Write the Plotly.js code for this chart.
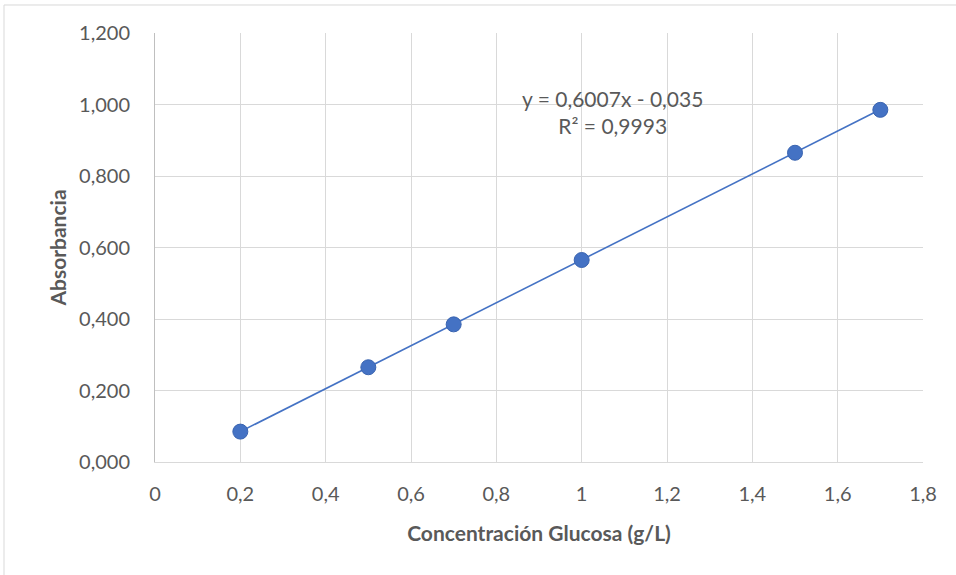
<!DOCTYPE html>
<html>
<head>
<meta charset="utf-8">
<script src="https://cdn.plot.ly/plotly-3.0.1.min.js"></script>
<style>html,body{margin:0;padding:0;background:#fff;}#chart{width:956px;height:575px;}</style>
</head>
<body>
<div id="chart"></div>
<script>
const concentration = [0.2, 0.5, 0.7, 1.0, 1.5, 1.7];
const absorbance = [0.085, 0.265, 0.385, 0.565, 0.865, 0.985];
const trendX = [0.2, 1.7];
const trendY = [0.085, 0.986];
const xTickVals = [0, 0.2, 0.4, 0.6, 0.8, 1, 1.2, 1.4, 1.6, 1.8];
const xTickText = ["0", "0,2", "0,4", "0,6", "0,8", "1", "1,2", "1,4", "1,6", "1,8"];
const yTickVals = [0, 0.2, 0.4, 0.6, 0.8, 1.0, 1.2];
const yTickText = ["0,000", "0,200", "0,400", "0,600", "0,800", "1,000", "1,200"];
const equationText = "y = 0,6007x - 0,035<br>R² = 0,9993";

const FONT = "Lato, 'Open Sans', sans-serif";
const blue = "#4472C4";

const traces = [
  {x: trendX, y: trendY, mode: "lines", line: {color: blue, width: 1.6}, hoverinfo: "skip", showlegend: false},
  {x: concentration, y: absorbance, mode: "markers", marker: {color: blue, size: 15, line: {color: "#3A64B0", width: 1}}, showlegend: false}
];

const layout = {
  width: 956, height: 575,
  margin: {l: 155, r: 33, t: 33, b: 113},
  paper_bgcolor: "#fff", plot_bgcolor: "#fff",
  font: {family: FONT, color: "#595959", size: 20},
  xaxis: {
    range: [0, 1.8], tickvals: xTickVals, ticktext: xTickText,
    showgrid: true, gridcolor: "#D9D9D9", gridwidth: 1, zeroline: false,
    showline: true, linecolor: "#D9D9D9", linewidth: 1, ticks: "",
    ticklabelstandoff: 14,
    tickfont: {family: FONT, size: 20, color: "#595959"},
    title: {text: "<b>Concentración Glucosa (g/L)</b>", font: {family: FONT, size: 21, color: "#595959"}, standoff: 22}
  },
  yaxis: {
    range: [0, 1.2], tickvals: yTickVals, ticktext: yTickText,
    showgrid: true, gridcolor: "#D9D9D9", gridwidth: 1, zeroline: false,
    showline: true, linecolor: "#BFBFBF", linewidth: 1, ticks: "",
    ticklabelstandoff: 20,
    tickfont: {family: FONT, size: 20, color: "#595959"},
    title: {text: "<b>Absorbancia</b>", font: {family: FONT, size: 21, color: "#595959"}, standoff: 6}
  },
  annotations: [{
    x: 1.073, y: 0.978, xref: "x", yref: "y", text: equationText, showarrow: false,
    align: "center", font: {family: FONT, size: 21, color: "#595959"}
  }],
  shapes: [{
    type: "rect", xref: "paper", yref: "paper",
    x0: -0.1966, x1: 1.1, y0: -0.3, y1: 1.0653,
    line: {color: "#D9D9D9", width: 1}, fillcolor: "rgba(0,0,0,0)", layer: "below"
  }]
};

Plotly.newPlot("chart", traces, layout, {displayModeBar: false, staticPlot: true});
</script>
</body>
</html>
